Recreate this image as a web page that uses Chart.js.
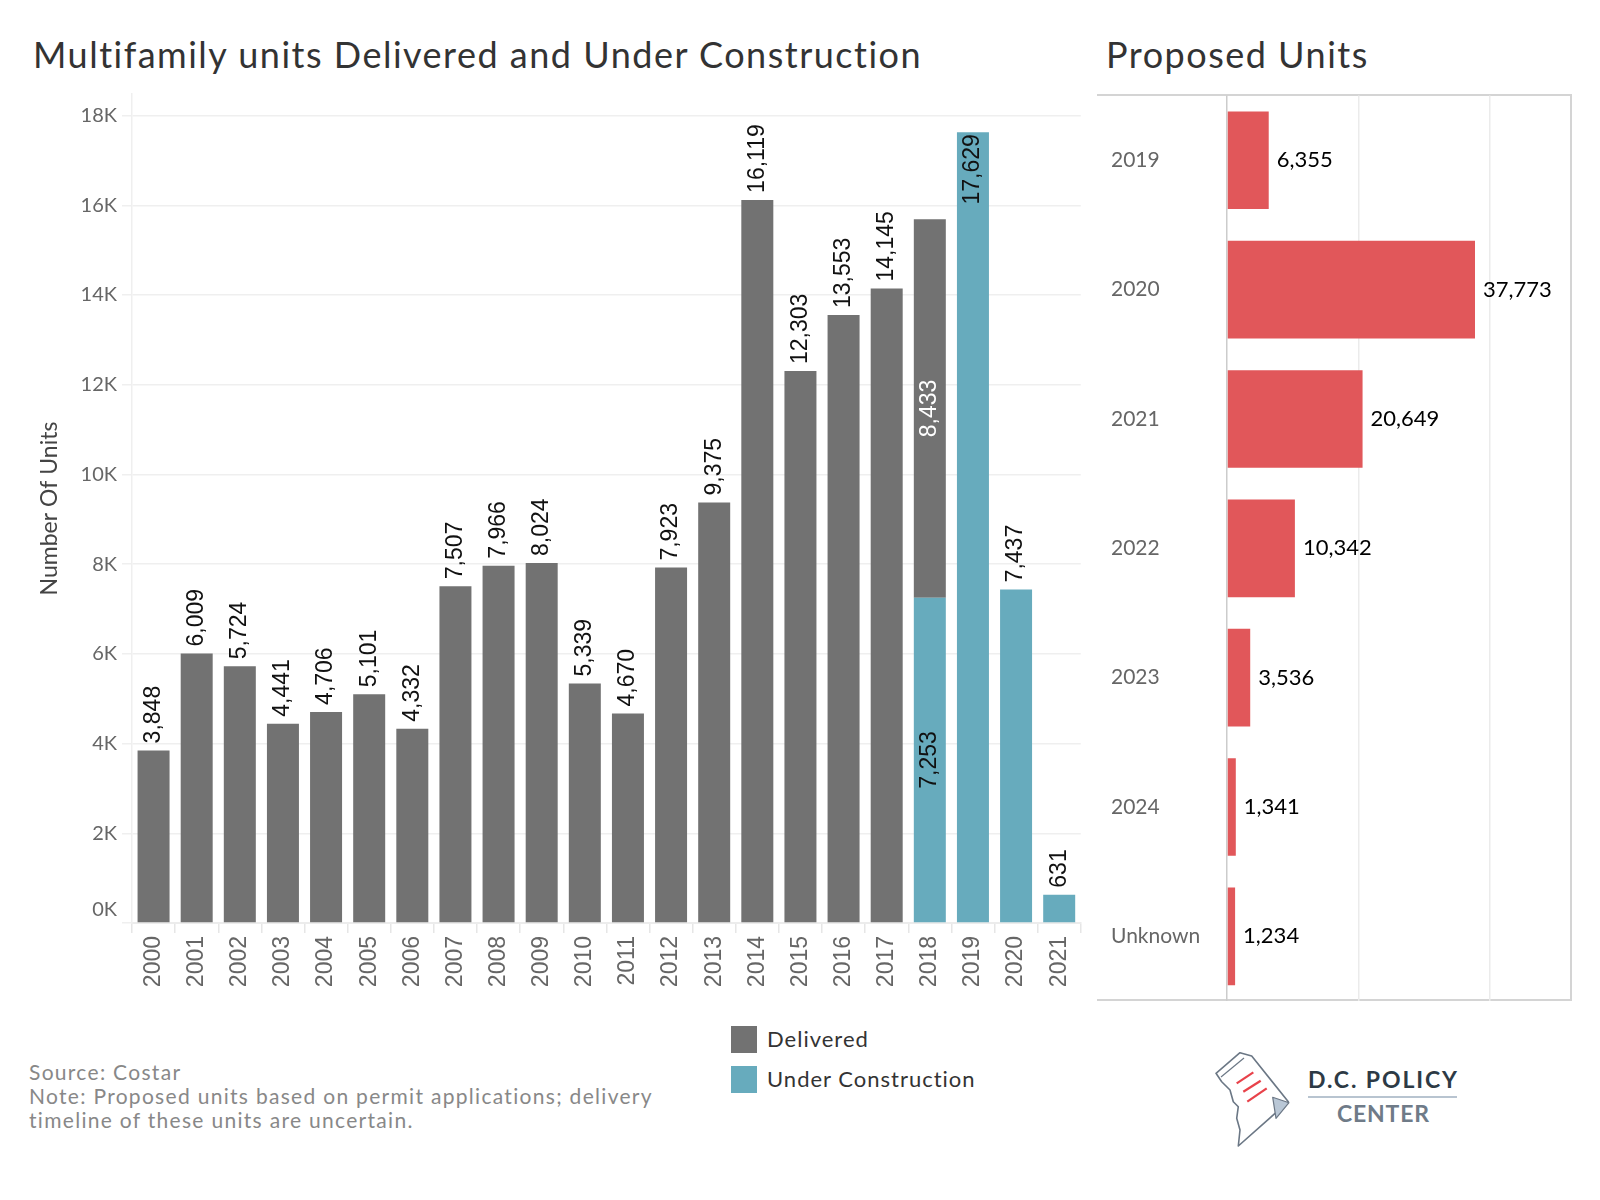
<!DOCTYPE html>
<html><head><meta charset="utf-8">
<script src="https://cdn.jsdelivr.net/npm/chart.js@4.4.0/dist/chart.umd.min.js"></script>
<style>
html,body{margin:0;padding:0;background:#fff;}
body{width:1600px;height:1200px;position:relative;overflow:hidden;font-family:Lato,"Open Sans",sans-serif;}
.abs{position:absolute;}
.title{font-size:36px;letter-spacing:1.5px;color:#333;line-height:1;white-space:nowrap;}
#note{left:29px;top:1060px;font-size:21px;letter-spacing:1.3px;line-height:24px;color:#888;white-space:nowrap;}
.lg{position:absolute;left:731px;width:26px;height:27px;}
.lgt{position:absolute;left:767px;font-size:22px;letter-spacing:1px;color:#333;line-height:1;white-space:nowrap;}
#panel{left:1097px;top:94px;width:475px;height:907px;border-top:2px solid #d4d4d4;border-right:2px solid #d4d4d4;border-bottom:2px solid #d4d4d4;box-sizing:border-box;}
canvas{position:absolute;}
</style></head>
<body>
<div class="abs title" style="left:33px;top:36px;">Multifamily units Delivered and Under Construction</div>
<div class="abs title" style="left:1106px;top:36px;">Proposed Units</div>
<div class="abs" id="panel"></div>
<canvas id="c1" width="1090" height="1000" style="left:0;top:0;"></canvas>
<canvas id="c2" width="510" height="940" style="left:1090px;top:80px;"></canvas>
<div class="lg" style="top:1026px;background:#727272;"></div>
<div class="lgt" style="top:1028px;">Delivered</div>
<div class="lg" style="top:1066px;background:#67abbd;"></div>
<div class="lgt" style="top:1068px;">Under Construction</div>
<div class="abs" id="note">Source: Costar<br>Note: Proposed units based on permit applications; delivery<br>timeline of these units are uncertain.</div>
<svg class="abs" style="left:1190px;top:1040px;" width="300" height="120" viewBox="1190 1040 300 120">
  <polygon points="1216,1073.3 1240,1052.7 1251.7,1056 1288.3,1101.7 1238.3,1146 1240,1130 1236.7,1118.3 1238.3,1106.7 1233.3,1101.7 1230,1090 1221.7,1081.7" fill="#fff" stroke="#6b7785" stroke-width="1.6" stroke-linejoin="round"/>
  <line x1="1221" y1="1077" x2="1244" y2="1058" stroke="#6b7785" stroke-width="1.2"/>
  <line x1="1236.7" y1="1083.3" x2="1253.3" y2="1072.3" stroke="#e8424a" stroke-width="2.2"/>
  <line x1="1243.3" y1="1091.7" x2="1260.7" y2="1080.7" stroke="#e8424a" stroke-width="2.2"/>
  <line x1="1247.3" y1="1101.7" x2="1266.7" y2="1088.3" stroke="#e8424a" stroke-width="2.2"/>
  <polygon points="1272.7,1097.3 1289,1102.7 1276,1118.3" fill="#b9c7d6" stroke="#6b7785" stroke-width="1.2" stroke-linejoin="round"/>
  <text x="1308" y="1088" font-family="Lato" font-weight="bold" font-size="23" fill="#2d3a45" textLength="149" lengthAdjust="spacing">D.C. POLICY</text>
  <line x1="1308" y1="1097" x2="1457" y2="1097" stroke="#b8c4d0" stroke-width="2"/>
  <text x="1337" y="1122" font-family="Lato" font-weight="bold" font-size="23" fill="#6f7b88" textLength="92" lengthAdjust="spacing">CENTER</text>
</svg>
<script>
// ---- data ----
const years = ['2000','2001','2002','2003','2004','2005','2006','2007','2008','2009','2010','2011','2012','2013','2014','2015','2016','2017','2018','2019','2020','2021'];
const delivered = [3848,6009,5724,4441,4706,5101,4332,7507,7966,8024,5339,4670,7923,9375,16119,12303,13553,14145,8433,null,null,null];
const underConstruction = [null,null,null,null,null,null,null,null,null,null,null,null,null,null,null,null,null,null,7253,17629,7437,631];
const yTicks = [0,2000,4000,6000,8000,10000,12000,14000,16000,18000];
const proposedCategories = ['2019','2020','2021','2022','2023','2024','Unknown'];
const proposedUnits = [6355,37773,20649,10342,3536,1341,1234];
const proposedTicks = [0,20000,40000];

const fmt = v => v.toLocaleString('en-US');
const kLabel = v => (v / 1000) + 'K';

const stackLabels = {
  id: 'stackLabels',
  afterDatasetsDraw(chart) {
    const ctx = chart.ctx, area = chart.chartArea;
    ctx.save();
    ctx.font = '23px "Liberation Sans"';
    ctx.textBaseline = 'middle';
    chart.data.datasets.forEach((ds, di) => {
      const meta = chart.getDatasetMeta(di);
      meta.data.forEach((bar, i) => {
        const v = ds.data[i];
        if (v == null) return;
        const shared = chart.data.datasets.filter(d => d.data[i] != null).length > 1;
        const txt = fmt(v);
        const w = ctx.measureText(txt).width;
        ctx.save();
        ctx.translate(bar.x, 0);
        ctx.fillStyle = '#111';
        if (shared) {
          ctx.translate(0, (bar.y + bar.base) / 2);
          ctx.textAlign = 'center';
          if (ds.label === 'Delivered') ctx.fillStyle = '#ffffff';
        } else if (bar.y - area.top < w + 10) {
          ctx.translate(0, bar.y + 2);
          ctx.textAlign = 'right';
        } else {
          ctx.translate(0, bar.y - 7);
          ctx.textAlign = 'left';
        }
        ctx.rotate(-Math.PI / 2);
        ctx.fillText(txt, 0, 0);
        ctx.restore();
      });
    });
    // zero label of the value axis, lifted inside the plot like the original
    const ys = chart.scales.y;
    ctx.font = '20px Lato';
    ctx.fillStyle = '#666';
    ctx.textAlign = 'right';
    ctx.fillText(kLabel(yTicks[0]), ys.right - 15, ys.getPixelForValue(yTicks[0]) - 13);
    ctx.restore();
  }
};

new Chart(document.getElementById('c1'), {
  type: 'bar',
  data: {
    labels: years,
    datasets: [
      {label: 'Under Construction', data: underConstruction, backgroundColor: '#67abbd', barPercentage: 0.742, categoryPercentage: 1},
      {label: 'Delivered', data: delivered, backgroundColor: '#727272', barPercentage: 0.742, categoryPercentage: 1}
    ]
  },
  options: {
    responsive: false, animation: false,
    layout: {padding: {top: 94, right: 9, left: 0, bottom: 0}},
    plugins: {legend: {display: false}, tooltip: {enabled: false}},
    scales: {
      x: {
        stacked: true,
        grid: {display: true, drawOnChartArea: false, drawTicks: true, tickLength: 10, color: '#e6e6e6', lineWidth: 1.5},
        border: {display: true, color: '#ececec', width: 2},
        ticks: {minRotation: 90, maxRotation: 90, autoSkip: false, font: {family: 'Liberation Sans', size: 23}, color: '#666', padding: 3},
        afterFit(s) { s.height = 77; }
      },
      y: {
        stacked: true, min: 0, max: 18480,
        afterBuildTicks(s) { s.ticks = yTicks.map(v => ({value: v})); },
        ticks: {
          autoSkip: false,
          callback: v => (v === 0 ? '' : kLabel(v)),
          font: {family: 'Lato', size: 20}, color: '#666', padding: 5
        },
        grid: {color: '#efefef', tickLength: 10, lineWidth: 1.5},
        border: {display: true, color: '#efefef', width: 1.5},
        afterFit(s) { s.width = 132; },
        title: {display: true, text: 'Number Of Units', font: {family: 'Lato', size: 23}, color: '#444', padding: {top: 36, bottom: 0}}
      }
    }
  },
  plugins: [stackLabels]
});

const endLabels = {
  id: 'endLabels',
  afterDatasetsDraw(chart) {
    const ctx = chart.ctx;
    ctx.save();
    ctx.font = '22px Lato';
    ctx.fillStyle = '#000';
    ctx.textBaseline = 'middle';
    ctx.textAlign = 'left';
    const meta = chart.getDatasetMeta(0);
    meta.data.forEach((bar, i) => {
      ctx.fillText(fmt(chart.data.datasets[0].data[i]), bar.x + 8, bar.y);
    });
    ctx.restore();
  }
};

new Chart(document.getElementById('c2'), {
  type: 'bar',
  data: {
    labels: proposedCategories,
    datasets: [{label: 'Proposed', data: proposedUnits, backgroundColor: '#e1575a', barPercentage: 0.755, categoryPercentage: 1}]
  },
  options: {
    indexAxis: 'y', responsive: false, animation: false,
    layout: {padding: {left: 21, top: 15, right: 27, bottom: 19}},
    plugins: {legend: {display: false}, tooltip: {enabled: false}},
    scales: {
      x: {
        min: 0, max: 52700,
        afterBuildTicks(s) { s.ticks = proposedTicks.map(v => ({value: v})); },
        ticks: {display: false},
        grid: {
          color: c => (c.tick && c.tick.value === 0) ? '#cccccc' : '#ebebeb',
          drawTicks: false, lineWidth: 1.5
        },
        border: {display: false},
        afterFit(s) { s.height = 0; }
      },
      y: {
        ticks: {crossAlign: 'far', font: {family: 'Lato', size: 21}, color: '#666'},
        grid: {display: false},
        border: {display: false},
        afterFit(s) { s.width = 116; }
      }
    }
  },
  plugins: [endLabels]
});
</script>
</body></html>
